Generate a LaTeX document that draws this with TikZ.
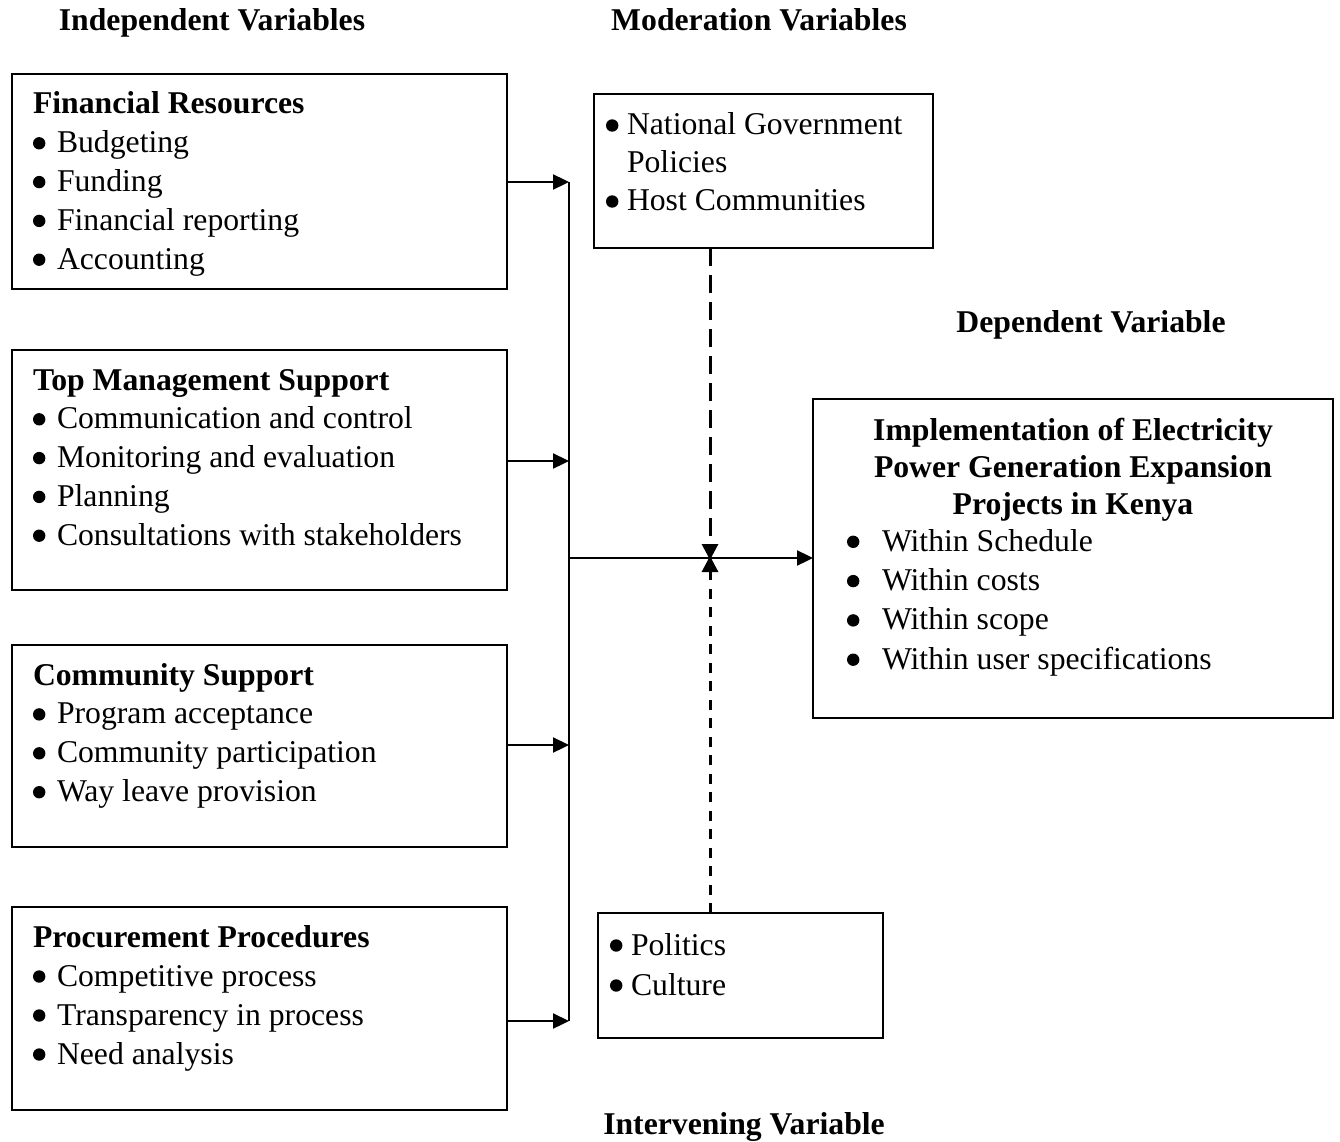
\documentclass[tikz,border=0pt]{standalone}
\usepackage{fontspec}
\setmainfont{Liberation Serif}
\usetikzlibrary{arrows.meta}
\newcommand\bul{\tikz[baseline=0pt]\fill (6.2pt,9.5pt) circle[radius=6.2pt];}
\begin{document}
\begin{tikzpicture}[x=1pt,y=-1pt,
  every node/.style={inner sep=0pt, outer sep=0pt, font=\fontsize{31.7}{39}\selectfont},
  vbox/.style={draw, line width=2.3pt, rectangle, anchor=north west},
  hdr/.style={anchor=base west, font=\fontsize{31.7}{39}\selectfont\bfseries},
  ttl/.style={anchor=base, font=\fontsize{31.7}{39}\selectfont\bfseries},
  itm/.style={anchor=base west},
  arr/.style={line width=2.3pt, -{Triangle[length=16pt,width=15pt]}},
  conn/.style={line width=2.3pt},
  dsh/.style={line width=3pt, -{Triangle[length=16pt,width=16pt]}}
]
\useasboundingbox (0,0) rectangle (1340,1142);

% titles
\node[ttl] (tind) at (212,31) {Independent Variables};
\node[ttl] (tmod) at (759,31) {Moderation Variables};
\node[ttl] (tdep) at (1091,332) {Dependent Variable};
\node[ttl] (tint) at (744,1134) {Intervening Variable};

% boxes
\node[vbox, minimum width=495pt, minimum height=215pt] (frbox) at (12,74) {};
\node[vbox, minimum width=495pt, minimum height=240pt] (tmbox) at (12,350) {};
\node[vbox, minimum width=495pt, minimum height=202pt] (csbox) at (12,645) {};
\node[vbox, minimum width=495pt, minimum height=203pt] (ppbox) at (12,907) {};
\node[vbox, minimum width=339pt, minimum height=154pt] (modbox) at (594,94) {};
\node[vbox, minimum width=520pt, minimum height=319pt] (depbox) at (813,399) {};
\node[vbox, minimum width=285pt, minimum height=125pt] (intbox) at (598,913) {};

% Financial resources
\node[hdr] (fr0) at (33,114) {Financial Resources};
\foreach \t [count=\i] in {Budgeting,Funding,Financial reporting,Accounting}
  \node[itm] (fr\i) at (33,{114+38.8*\i}) {\makebox[24pt][l]{\bul}\t};

% Top management support
\node[hdr] (tm0) at (33,390) {Top Management Support};
\foreach \t [count=\i] in {Communication and control,Monitoring and evaluation,Planning,Consultations with stakeholders}
  \node[itm] (tm\i) at (33,{390+38.8*\i}) {\makebox[24pt][l]{\bul}\t};

% Community support
\node[hdr] (cs0) at (33,685) {Community Support};
\foreach \t [count=\i] in {Program acceptance,Community participation,Way leave provision}
  \node[itm] (cs\i) at (33,{685+38.9*\i}) {\makebox[24pt][l]{\bul}\t};

% Procurement procedures
\node[hdr] (pp0) at (33,947) {Procurement Procedures};
\foreach \t [count=\i] in {Competitive process,Transparency in process,Need analysis}
  \node[itm] (pp\i) at (33,{947+39*\i}) {\makebox[24pt][l]{\bul}\t};

% Moderation
\node[itm] (md1) at (606,135) {\makebox[21pt][l]{\bul}National Government};
\node[itm] (md1b) at (627,172) {Policies};
\node[itm] (md2) at (606,211) {\makebox[21pt][l]{\bul}Host Communities};

% Dependent
\node[ttl] (dp0a) at (1073,440) {Implementation of Electricity};
\node[ttl] (dp0b) at (1073,477) {Power Generation Expansion};
\node[ttl] (dp0c) at (1073,514) {Projects in Kenya};
\foreach \t [count=\i] in {Within Schedule,Within costs,Within scope,Within user specifications}
  \node[itm] (dp\i) at (847,{512+39.3*\i}) {\makebox[35pt][l]{\bul}\t};

% Intervening
\node[itm] (iv1) at (610,955) {\makebox[21pt][l]{\bul}Politics};
\node[itm] (iv2) at (610,995) {\makebox[21pt][l]{\bul}Culture};

% connectors
\coordinate (j1) at (569,182);
\coordinate (j2) at (569,461);
\coordinate (j3) at (569,745);
\coordinate (j4) at (569,1021);
\coordinate (jm) at (569,558);
\coordinate (dm) at (710,558);

\draw[arr] (frbox.east |- j1) -- (j1);
\draw[arr] (tmbox.east |- j2) -- (j2);
\draw[arr] (csbox.east |- j3) -- (j3);
\draw[arr] (ppbox.east |- j4) -- (j4);
\draw[conn] (j1) -- (j4);
\draw[arr] (jm) -- (depbox.west |- jm);

\draw[dsh, dash pattern=on 18pt off 9pt] (modbox.south -| dm) -- ([yshift=-2pt]dm);
\draw[dsh, dash pattern=on 10pt off 8.5pt] (intbox.north -| dm) -- ([yshift=2pt]dm);
\end{tikzpicture}
\end{document}
